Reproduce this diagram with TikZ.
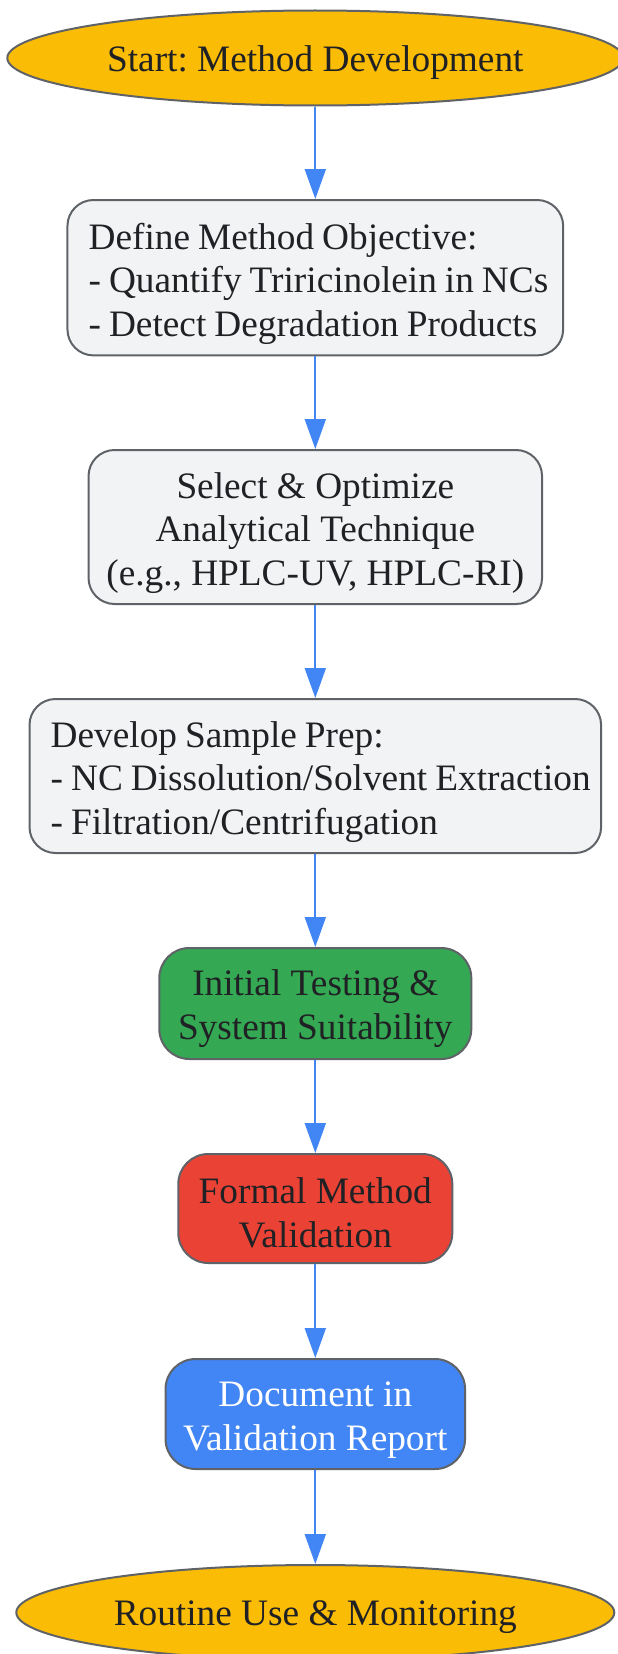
\documentclass[tikz,border=0pt]{standalone}
\usepackage{fontspec}
\setmainfont{Liberation Serif}
\usetikzlibrary{shapes.geometric,arrows.meta}
\definecolor{cyellow}{HTML}{FBBC05}
\definecolor{cgray}{HTML}{F1F3F4}
\definecolor{cgreen}{HTML}{34A853}
\definecolor{cred}{HTML}{EA4335}
\definecolor{cblue}{HTML}{4285F4}
\definecolor{cborder}{HTML}{5F6368}
\definecolor{ctext}{HTML}{202124}
\frenchspacing
\tikzset{
  base/.style={draw=cborder, line width=2pt, inner sep=0pt},
  term/.style={base, ellipse, fill=cyellow},
  graybox/.style={base, rectangle, rounded corners=26pt, fill=cgray},
  colbox/.style={base, rectangle, rounded corners=30pt},
  txt/.style={inner sep=0pt, text=ctext, align=center,
    font=\fontsize{37.3pt}{43.8pt}\selectfont,
    execute at begin node={\frenchspacing}},
  ltxt/.style={txt, align=left, anchor=west,
    execute at begin node={\frenchspacing\spaceskip=0.215em\relax}},
  conn/.style={draw=cblue, line width=2pt, -{Triangle[length=30pt,width=21pt]}, cblue}
}
\begin{document}
\begin{tikzpicture}[x=1pt,y=-1pt]
\useasboundingbox (0,0) rectangle (618,1654);
% boxes
\node[term, minimum width=616pt, minimum height=95pt] (start) at (315.3,58) {};
\node[graybox, minimum width=495.7pt, minimum height=155.4pt] (obj) at (315.3,277.7) {};
\node[graybox, minimum width=453.5pt, minimum height=154pt] (sel) at (315.3,527) {};
\node[graybox, minimum width=571.6pt, minimum height=154pt] (prep) at (315.3,776) {};
\node[colbox, fill=cgreen, minimum width=312pt, minimum height=111pt] (test) at (315.3,1003.5) {};
\node[colbox, fill=cred, minimum width=274pt, minimum height=109pt] (val) at (315.3,1208.5) {};
\node[colbox, fill=cblue, minimum width=299.5pt, minimum height=110pt] (doc) at (315.3,1414) {};
\node[term, minimum width=598pt, minimum height=95pt] (end) at (315.3,1612.5) {};
% texts
\node[txt] (startt) at ([yshift=-5pt]start.center) {Start: Method Development};
\node[ltxt] (objt) at ([xshift=22pt,yshift=-6pt]obj.west)
  {Define Method Objective:\\- Quantify Triricinolein in NCs\\- Detect Degradation Products};
\node[txt] (selt) at ([yshift=-6pt]sel.center)
  {Select \& Optimize\\Analytical Technique\\(e.g., HPLC-UV, HPLC-RI)};
\node[ltxt] (prept) at ([xshift=22pt,yshift=-6pt]prep.west)
  {Develop Sample Prep:\\- NC Dissolution/Solvent Extraction\\- Filtration/Centrifugation};
\node[txt] (testt) at ([yshift=-5pt]test.center) {Initial Testing \&\\System Suitability};
\node[txt] (valt) at ([yshift=-4pt]val.center) {Formal Method\\Validation};
\node[txt, text=white] (doct) at ([yshift=-6pt]doc.center) {Document in\\Validation Report};
\node[txt] (endt) at ([yshift=-5pt]end.center) {Routine Use \& Monitoring};
% connectors
\draw[conn] (start.south) -- (obj.north);
\draw[conn] (obj.south) -- (sel.north);
\draw[conn] (sel.south) -- (prep.north);
\draw[conn] (prep.south) -- (test.north);
\draw[conn] (test.south) -- (val.north);
\draw[conn] (val.south) -- (doc.north);
\draw[conn] (doc.south) -- (end.north);
\end{tikzpicture}
\end{document}
